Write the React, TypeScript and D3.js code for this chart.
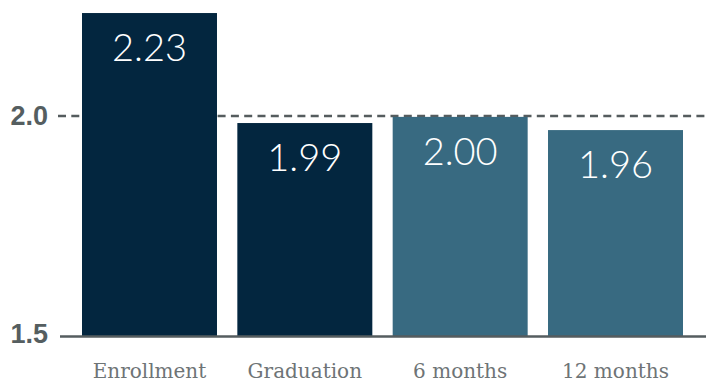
import React from "react";
import * as d3 from "d3";

const categories = ["Enrollment", "Graduation", "6 months", "12 months"];
const values = [2.234, 1.984, 1.998, 1.968];
const valueLabels = ["2.23", "1.99", "2.00", "1.96"];
const groups = ["school", "school", "after", "after"];
const yTicks = [1.5, 2.0];
const refValue = 2.0;

const W = 706;
const H = 383;

export default function App() {
  const x = d3.scaleBand<string>().domain(categories).range([82, 683]).paddingInner(0.131).paddingOuter(0);
  const y = d3.scaleLinear().domain([1.5, 2.0]).range([336, 116]);
  const color = d3.scaleOrdinal<string, string>().domain(["school", "after"]).range(["#03263f", "#386a81"]);
  const fmt = d3.format(".1f");

  return (
    <svg width={W} height={H} style={{ position: "absolute", left: 0, top: 0, background: "#fff" }}>
      <line x1={58} x2={W} y1={y(refValue)} y2={y(refValue)} stroke="#555c5e" strokeWidth={2.6} strokeDasharray="8 5.3" />
      {categories.map((c, i) => (
        <rect key={c} x={x(c)} y={y(values[i])} width={x.bandwidth()} height={y(1.5) - y(values[i])} fill={color(groups[i])} />
      ))}
      {categories.map((c, i) => (
        <text key={c + "v"} x={(x(c) as number) + x.bandwidth() / 2} y={y(values[i]) + 48} textAnchor="middle"
          fill="#fff" fontFamily="Lato, 'Open Sans', sans-serif" fontWeight={300} fontSize={38}>
          {valueLabels[i]}
        </text>
      ))}
      <line x1={60} x2={W} y1={y(1.5) + 0.5} y2={y(1.5) + 0.5} stroke="#555d5f" strokeWidth={2.5} />
      {yTicks.map((t) => (
        <text key={t} x={48} y={y(t) + (t === 1.5 ? 7 : 9)} textAnchor="end" fill="#555e60"
          fontFamily="'Liberation Sans', Arial, sans-serif" fontWeight={700} fontSize={27}>
          {fmt(t)}
        </text>
      ))}
      {categories.map((c) => (
        <text key={c + "x"} x={(x(c) as number) + x.bandwidth() / 2} y={378} textAnchor="middle"
          fill="#6e7476" fontFamily="'DejaVu Serif', serif" fontSize={20} fontWeight={300}>
          {c}
        </text>
      ))}
    </svg>
  );
}
